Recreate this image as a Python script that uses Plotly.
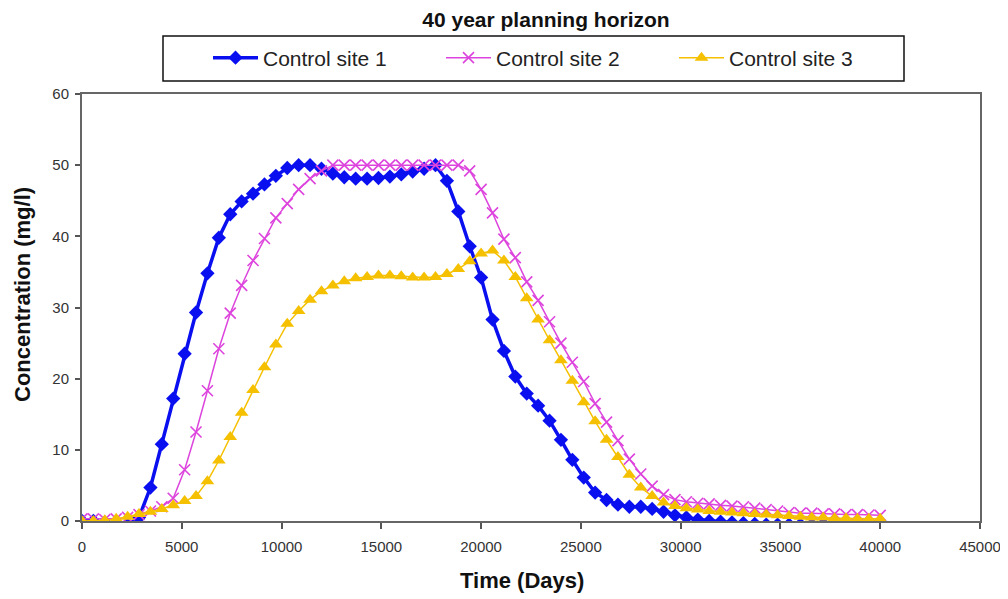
import plotly.graph_objects as go

time_days = [0, 571, 1143, 1714, 2286, 2857, 3429, 4000, 4571, 5143, 5714, 6286, 6857, 7429,
             8000, 8571, 9143, 9714, 10286, 10857, 11429, 12000, 12571, 13143, 13714, 14286,
             14857, 15429, 16000, 16571, 17143, 17714, 18286, 18857, 19429, 20000, 20571,
             21143, 21714, 22286, 22857, 23429, 24000, 24571, 25143, 25714, 26286, 26857,
             27429, 28000, 28571, 29143, 29714, 30286, 30857, 31429, 32000, 32571, 33143,
             33714, 34286, 34857, 35429, 36000, 36571, 37143, 37714, 38286, 38857, 39429, 40000]

site1 = [0.0, 0.0, -0.2, -0.6, -0.5, 0.5, 4.7, 10.8, 17.2, 23.5, 29.3, 34.8, 39.8, 43.1,
         44.9, 46.0, 47.3, 48.5, 49.6, 50.0, 50.0, 49.5, 48.8, 48.3, 48.1, 48.1,
         48.2, 48.4, 48.7, 49.1, 49.5, 50.0, 47.8, 43.5, 38.6, 34.2, 28.3,
         23.9, 20.3, 17.9, 16.2, 14.1, 11.4, 8.6, 6.1, 4.0, 2.95, 2.3,
         2.0, 2.0, 1.7, 1.3, 0.8, 0.5, 0.2, 0.0, -0.1, -0.2, -0.3,
         -0.4, -0.5, -0.5, -0.5, -0.5, -0.5, -0.4, -0.4, -0.3, -0.3, -0.2, -0.1]

site2 = [0.3, 0.3, 0.2, 0.3, 0.5, 0.9, 1.4, 2.0, 3.2, 7.2, 12.5, 18.3, 24.2, 29.2,
         33.1, 36.6, 39.7, 42.6, 44.6, 46.6, 48.1, 49.2, 50.0, 50.0, 50.0, 50.0,
         50.0, 50.0, 50.0, 50.0, 50.0, 50.0, 50.0, 50.0, 49.2, 46.6, 43.3,
         39.6, 37.0, 33.6, 31.0, 28.0, 25.0, 22.3, 19.6, 16.5, 13.9, 11.3,
         8.7, 6.6, 4.9, 3.7, 3.0, 2.7, 2.5, 2.4, 2.2, 2.1, 2.0,
         1.8, 1.6, 1.4, 1.2, 1.1, 1.1, 1.0, 1.0, 0.9, 0.9, 0.85, 0.8]

site3 = [0.0, 0.0, 0.1, 0.3, 0.6, 1.0, 1.3, 1.7, 2.2, 2.8, 3.5, 5.6, 8.5, 11.8,
         15.2, 18.4, 21.6, 24.8, 27.7, 29.5, 31.1, 32.3, 33.1, 33.7, 34.1, 34.3,
         34.5, 34.5, 34.4, 34.2, 34.2, 34.3, 34.7, 35.4, 36.5, 37.6, 38.0,
         36.6, 34.3, 31.3, 28.3, 25.4, 22.6, 19.7, 16.7, 14.0, 11.4, 9.0,
         6.5, 4.7, 3.5, 2.6, 2.1, 1.8, 1.6, 1.4, 1.3, 1.2, 1.1,
         1.0, 0.9, 0.8, 0.7, 0.6, 0.5, 0.5, 0.4, 0.4, 0.3, 0.3, 0.3]

series_names = ["Control site 1", "Control site 2", "Control site 3"]
x_ticks = [0, 5000, 10000, 15000, 20000, 25000, 30000, 35000, 40000, 45000]
y_ticks = [0, 10, 20, 30, 40, 50, 60]

FONT = "Liberation Sans, Arial, sans-serif"

# page has 8px body margin; compensate so plot area spans x 82..980, y 94..521
W, H = 1000, 591
ML, MR, MT, MB = 74, 28, 86, 78
PW = W - ML - MR
PH = H - MT - MB


def px_to_paper_x(px):
    return (px - 8 - ML) / PW


def px_to_paper_y(py):
    return (H - MB - (py - 8)) / PH


fig = go.Figure()
fig.add_trace(go.Scatter(
    x=time_days, y=site1, name=series_names[0], mode="lines+markers",
    line=dict(color="#0a0ff0", width=3.5),
    marker=dict(symbol="diamond", size=11, color="#0a0ff0"),
))
fig.add_trace(go.Scatter(
    x=time_days, y=site2, name=series_names[1], mode="lines+markers",
    line=dict(color="#dd44dd", width=1.5),
    marker=dict(symbol="x-thin", size=11, color="#dd44dd",
                line=dict(color="#dd44dd", width=1.6)),
))
fig.add_trace(go.Scatter(
    x=time_days, y=site3, name=series_names[2], mode="lines+markers",
    line=dict(color="#f5c000", width=1.5),
    marker=dict(symbol="triangle-up", size=12, color="#f5c000"),
))

fig.update_layout(
    width=W, height=H,
    margin=dict(l=ML, r=MR, t=MT, b=MB, autoexpand=False),
    paper_bgcolor="white", plot_bgcolor="white",
    font=dict(family=FONT, color="#222222", size=14),
    title=dict(text="<b>40 year planning horizon</b>", x=(546 - 8) / W, xanchor="center",
               y=1 - (20 - 8) / H, yanchor="middle",
               font=dict(family=FONT, size=21, color="#111111")),
    showlegend=True,
    legend=dict(orientation="h", x=px_to_paper_x(208), xanchor="left",
                y=px_to_paper_y(58), yanchor="middle",
                borderwidth=0, bgcolor="rgba(0,0,0,0)",
                font=dict(family=FONT, size=21, color="#222222"),
                itemwidth=45, entrywidth=173, entrywidthmode="pixels",
                traceorder="normal"),
    shapes=[dict(type="rect", xref="paper", yref="paper",
                 x0=px_to_paper_x(163), x1=px_to_paper_x(904),
                 y0=px_to_paper_y(81), y1=px_to_paper_y(36),
                 line=dict(color="#111111", width=1.5), fillcolor="rgba(0,0,0,0)")],
    annotations=[
        dict(text="<b>Time (Days)</b>", xref="paper", yref="paper",
             x=px_to_paper_x(522), y=px_to_paper_y(580), xanchor="center", yanchor="middle",
             showarrow=False, font=dict(family=FONT, size=22, color="#111111")),
        dict(text="<b>Concentration (mg/l)</b>", xref="paper", yref="paper",
             x=px_to_paper_x(22), y=px_to_paper_y(295), xanchor="center", yanchor="middle",
             textangle=-90, showarrow=False,
             font=dict(family=FONT, size=22, color="#111111")),
    ],
    xaxis=dict(range=[0, 45000], tickvals=x_ticks, ticktext=[str(v) for v in x_ticks],
               showgrid=False, zeroline=False, showline=True, linecolor="#666666",
               linewidth=2, mirror=True, ticks="outside", ticklen=6, tickcolor="#555555",
               tickwidth=1.5, tickfont=dict(family=FONT, size=15, color="#333333"),
               ticklabelstandoff=5, automargin=False),
    yaxis=dict(range=[0, 60], tickvals=y_ticks, showgrid=False, zeroline=False,
               showline=True, linecolor="#666666", linewidth=2, mirror=True,
               ticks="outside", ticklen=5, tickcolor="#555555", tickwidth=1.5,
               tickfont=dict(family=FONT, size=15, color="#333333"),
               ticklabelstandoff=3, automargin=False),
)

fig.write_html("out.html")
